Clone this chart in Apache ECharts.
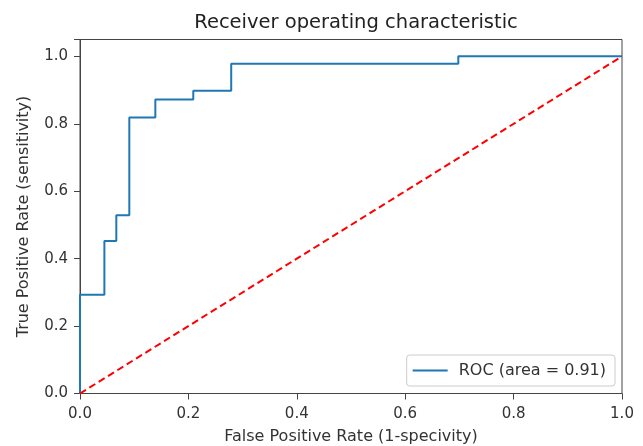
<!DOCTYPE html>
<html>
<head>
<meta charset="utf-8">
<script src="https://cdn.jsdelivr.net/npm/echarts@6/dist/echarts.min.js"></script>
<style>
html,body{margin:0;padding:0;background:#fff;}
#chart{width:643px;height:446px;}
</style>
</head>
<body>
<div id="chart"></div>
<script>
// ROC curve corner points (false positive rate, true positive rate)
var fpr = [0, 0, 0.045, 0.045, 0.067, 0.067, 0.091, 0.091, 0.139, 0.139, 0.209, 0.209, 0.279, 0.279, 0.698, 0.698, 1.0];
var tpr = [0, 0.293, 0.293, 0.452, 0.452, 0.529, 0.529, 0.819, 0.819, 0.872, 0.872, 0.898, 0.898, 0.978, 0.978, 1.0, 1.0];
var diagX = [0, 1];
var diagY = [0, 1];
var rocName = 'ROC (area = 0.91)';
var titleText = 'Receiver operating characteristic';
var xLabel = 'False Positive Rate (1-specivity)';
var yLabel = 'True Positive Rate (sensitivity)';

var rocData = fpr.map(function (x, i) { return [x, tpr[i]]; });
var diagData = diagX.map(function (x, i) { return [x, diagY[i]]; });

var FONT = 'DejaVu Sans';
var TXT = '#333';

var chart = echarts.init(document.getElementById('chart'), null, {renderer: 'canvas'});
chart.setOption({
  animation: false,
  backgroundColor: '#fff',
  title: {
    text: titleText,
    left: 351, top: 8, textAlign: 'center',
    textStyle: {fontFamily: FONT, fontSize: 19.5, fontWeight: 'normal', color: '#222'}
  },
  grid: {
    left: 80, right: 21, top: 39.5, bottom: 52.5,
    containLabel: false, outerBoundsMode: 'none',
    show: true, borderColor: '#444', borderWidth: 1, backgroundColor: 'transparent'
  },
  legend: {
    data: [rocName],
    right: 28, bottom: 60,
    orient: 'vertical',
    backgroundColor: '#fff',
    borderColor: '#ccc', borderWidth: 1, borderRadius: 3,
    padding: [6, 9, 6, 6],
    icon: 'rect',
    itemWidth: 35, itemHeight: 2, itemGap: 4,
    textStyle: {fontFamily: FONT, fontSize: 16, color: TXT, padding: [0, 0, 0, 6], lineHeight: 19}
  },
  xAxis: {
    type: 'value', min: 0, max: 1, interval: 0.2,
    name: xLabel, nameLocation: 'middle', nameGap: 35,
    nameTextStyle: {fontFamily: FONT, fontSize: 16, color: TXT},
    axisLine: {show: true, lineStyle: {color: '#444', width: 1}},
    axisTick: {show: true, inside: false, length: 6, lineStyle: {color: '#444'}},
    axisLabel: {fontFamily: FONT, fontSize: 15, color: TXT, margin: 13,
      formatter: function (v) { return v.toFixed(1); }},
    splitLine: {show: false}
  },
  yAxis: {
    type: 'value', min: 0, max: 1.05, interval: 0.2,
    name: yLabel, nameLocation: 'middle', nameGap: 48, nameRotate: 90,
    nameTextStyle: {fontFamily: FONT, fontSize: 16, color: TXT},
    axisLine: {show: true, lineStyle: {color: '#444', width: 1}},
    axisTick: {show: true, inside: false, length: 6, lineStyle: {color: '#444'}},
    axisLabel: {fontFamily: FONT, fontSize: 15, color: TXT, margin: 12,
      formatter: function (v) {
        var r = Math.round(v * 10) / 10;
        if (Math.abs(v - r) > 1e-6 || Math.round(r * 10) % 2 !== 0) return '';
        return r.toFixed(1);
      }},
    splitLine: {show: false}
  },
  series: [
    {
      name: rocName, type: 'line', data: rocData,
      symbol: 'none', showSymbol: false,
      lineStyle: {color: '#1f77b4', width: 2},
      itemStyle: {color: '#1f77b4'},
      z: 2
    },
    {
      name: 'diag', type: 'line', data: diagData,
      symbol: 'none', showSymbol: false,
      lineStyle: {color: '#ff0000', width: 2, type: [7, 4]},
      itemStyle: {color: '#ff0000'},
      z: 3
    }
  ]
});
</script>
</body>
</html>
